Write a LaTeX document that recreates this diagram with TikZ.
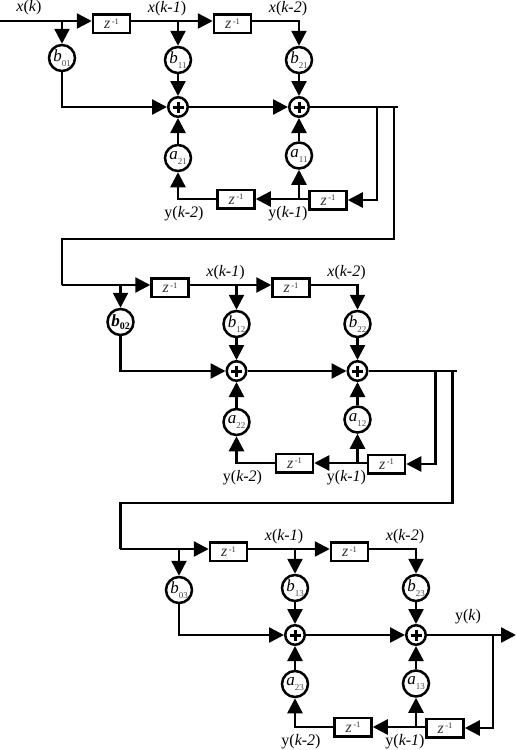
\documentclass[tikz,border=0pt]{standalone}
\usepackage{fontspec}
\setmainfont{Liberation Serif}
\usetikzlibrary{arrows.meta}
\newcommand{\coef}[2]{\textit{#1}\raisebox{-5pt}{\fontsize{9}{9}\selectfont\color{black!70}#2}}
\newcommand{\zinv}{\textit{z}\raisebox{4.5pt}{\fontsize{8.5}{8.5}\selectfont\,-1}}
\tikzset{
  wire/.style={line width=2.5pt,line join=miter},
  arr/.style={wire,-{Triangle[length=15pt,width=15pt]}},
  gain/.style={circle,draw,line width=2.5pt,minimum size=26pt,inner sep=0pt,fill=white,font=\fontsize{17}{17}\selectfont},
  adder/.style={circle,draw,line width=2.5pt,minimum size=19.5pt,inner sep=0pt,fill=white},
  delay/.style={rectangle,draw,line width=2.5pt,minimum width=37pt,minimum height=18.5pt,inner sep=0pt,fill=white,text=black!80,font=\fontsize{16}{16}\selectfont},
  lab/.style={inner sep=0pt,font=\fontsize{16}{16}\selectfont}
}
% #1 b0 label, #2 b1 label, #3 b2 label, #4 a2 label, #5 a1 label, #6 b0 y, #7 a2 y, #8 input x
\newcommand{\stagebody}[8]{
  \coordinate (in) at (#8,21);
  \node[delay] (z1) at (111.5,23.5) {\zinv};
  \node[delay] (z2) at (232.5,23.5) {\zinv};
  \node[gain] (b0) at (62,#6) {#1};
  \node[gain] (b1) at (178,60) {#2};
  \node[gain] (b2) at (299,60) {#3};
  \node[adder] (s1) at (178,107) {};
  \node[adder] (s2) at (299,107) {};
  \node[gain] (a2) at (178,#7) {#4};
  \node[gain] (a1) at (299,155.5) {#5};
  \node[delay] (z4) at (236,199) {\zinv};
  \node[delay] (z3) at (328,200) {\zinv};
  \foreach \s in {s1,s2}{
    \draw[line width=3pt] ([xshift=-5.5pt]\s.center) -- ([xshift=5.5pt]\s.center);
    \draw[line width=3pt] ([yshift=-5.5pt]\s.center) -- ([yshift=5.5pt]\s.center);
  }
  \node[lab] (lx1) at (167,9) {\textit{x}(\textit{k-1})};
  \node[lab] (lx2) at (288,9) {\textit{x}(\textit{k-2})};
  \node[lab] (ly2) at (184,213.5) {y(\textit{k-2})};
  \node[lab] (ly1) at (288,213.5) {y(\textit{k-1})};
  \coordinate (n0) at (b0|-in);
  \coordinate (n1) at (b1|-in);
  \draw[arr] (in) -- (z1.west|-in);
  \draw[arr] (z1.east|-in) -- (z2.west|-in);
  \draw[arr] (n0) -- (b0.north);
  \draw[arr] (n1) -- (b1.north);
  \draw[arr] (z2.east|-in) -- (b2|-in) -- (b2.north);
  \draw[arr] (b0.south) -- (b0|-s1) -- (s1.west);
  \draw[arr] (b1.south) -- (s1.north);
  \draw[arr] (b2.south) -- (s2.north);
  \draw[arr] (s1.east) -- (s2.west);
  \draw[arr] (a2.north) -- (s1.south);
  \draw[arr] (a1.north) -- (s2.south);
  \coordinate (j) at (a1|-z4);
  \draw[arr] (z3.west|-z4) -- (z4.east);
  \draw[arr] (j) -- (a1.south);
  \draw[arr] (z4.west) -- (a2|-z4) -- (a2.south);
  \coordinate (t) at (398,107);
  \coordinate (f) at (377,107);
  \coordinate (d) at (394,107);
}
\begin{document}
\begin{tikzpicture}[x=1pt,y=-1pt]
\useasboundingbox (0,0) rectangle (516,750);
\begin{scope}[name prefix=A-]
  \stagebody{\coef{b}{01}}{\coef{b}{11}}{\coef{b}{21}}{\coef{a}{21}}{\coef{a}{11}}{58}{158}{0}
  \draw[wire] (s2.east) -- (t);
  \draw[arr] (f) -- (f|-z3) -- (z3.east);
  \node[lab] (lx0) at (29,8) {\textit{x}(\textit{k})};
\end{scope}
\begin{scope}[shift={(58.5,264)},name prefix=B-]
  \stagebody{\textbf{\textit{b}}\raisebox{-3pt}{\fontsize{10}{10}\selectfont\bfseries 02}}{\coef{b}{12}}{\coef{b}{22}}{\coef{a}{22}}{\coef{a}{12}}{58}{158}{3}
  \draw[wire] (s2.east) -- (t);
  \draw[arr] (f) -- (f|-z3) -- (z3.east);
\end{scope}
\begin{scope}[shift={(117,528)},name prefix=C-]
  \stagebody{\coef{b}{03}}{\coef{b}{13}}{\coef{b}{23}}{\coef{a}{23}}{\coef{a}{13}}{62}{156}{3}
  \coordinate (o) at (399,107);
  \coordinate (f3) at (376,107);
  \draw[arr] (s2.east) -- (o);
  \draw[arr] (f3) -- (f3|-z3) -- (z3.east);
  \node[lab] (ly0) at (351,89) {y(\textit{k})};
\end{scope}
\draw[wire] (A-d) -- (A-d|-0,239) -- (A-b0|-0,239) -- (A-b0|-B-in) -- (B-in);
\draw[wire] (B-d) -- (B-d|-0,503) -- (B-b0|-0,503) -- (B-b0|-C-in) -- (C-in);
\end{tikzpicture}
\end{document}
